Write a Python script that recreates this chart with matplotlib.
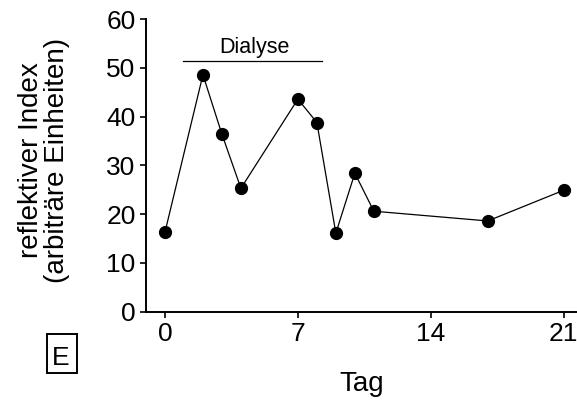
import matplotlib
matplotlib.use("Agg")
import matplotlib.pyplot as plt
from matplotlib.patches import Rectangle

plt.rcParams['font.family'] = ['Liberation Sans', 'DejaVu Sans']

# Measurement days and reflective index values
days = [0, 2, 3, 4, 7, 8, 9, 10, 11, 17, 21]
index_values = [16.3, 48.6, 36.4, 25.3, 43.6, 38.8, 16.1, 28.4, 20.6, 18.6, 24.9]

x_ticks = [0, 7, 14, 21]
y_ticks = [0, 10, 20, 30, 40, 50, 60]

# Dialysis period bar
dialysis_start, dialysis_end, dialysis_level = 0.93, 8.29, 51.4
dialysis_label = "Dialyse"

fig = plt.figure(figsize=(5.77, 4.0), dpi=100)
ax = fig.add_axes([0.253, 0.221, 0.747, 0.731])

ax.plot(days, index_values, color='black', linewidth=0.9,
        marker='o', markersize=8.5, markerfacecolor='black',
        markeredgecolor='black', clip_on=False, zorder=3)

ax.plot([dialysis_start, dialysis_end], [dialysis_level, dialysis_level],
        color='black', linewidth=0.9)
ax.text((dialysis_start + dialysis_end) / 2 + 0.1, dialysis_level + 0.6, dialysis_label,
        ha='center', va='bottom', fontsize=15.5)

ax.set_xlim(-1.0, 21.7)
ax.set_ylim(0, 60)
ax.set_xticks(x_ticks)
ax.set_yticks(y_ticks)
ax.tick_params(axis='both', direction='out', length=4.5, width=1.2,
               labelsize=19, pad=3)

for side in ('top', 'right'):
    ax.spines[side].set_visible(False)
for side in ('left', 'bottom'):
    ax.spines[side].set_linewidth(1.4)

ax.set_xlabel("Tag", fontsize=20, labelpad=18)
fig.text(0.0755, 0.60, "reflektiver Index\n(arbiträre Einheiten)",
         rotation=90, ha='center', va='center', fontsize=20,
         multialignment='center', linespacing=1.0)

# Panel letter in a framed box
fig.add_artist(Rectangle((0.082, 0.068), 0.052, 0.097, transform=fig.transFigure,
                         facecolor='none', edgecolor='black', linewidth=1.4))
fig.text(0.106, 0.0875, "E", ha='center', va='baseline', fontsize=19)

fig.savefig("out.png", dpi=100)
